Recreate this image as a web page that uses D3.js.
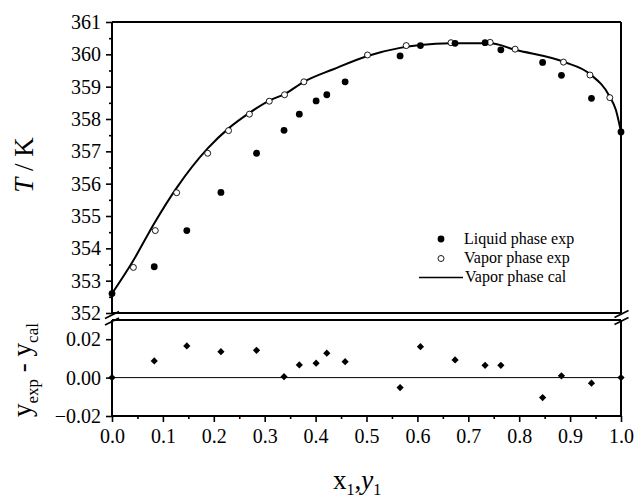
<!DOCTYPE html>
<html>
<head>
<meta charset="utf-8">
<title>T-x-y diagram</title>
<script src="https://d3js.org/d3.v7.min.js"></script>
<style>
  html, body { margin: 0; padding: 0; background: #fff; }
  svg text { font-family: "Liberation Serif", "DejaVu Serif", serif; fill: #000; }
</style>
</head>
<body>
<svg id="chart" width="636" height="500"></svg>
<script>
// liquid phase experimental points (x1, T) and the residuals y_exp - y_cal
const liquidX = [0, 0.083, 0.147, 0.214, 0.284, 0.338, 0.368, 0.401, 0.422, 0.458, 0.566, 0.606, 0.674, 0.733, 0.764, 0.846, 0.883, 0.942, 1.0];
const liquidT = [352.6, 353.43, 354.55, 355.73, 356.94, 357.65, 358.15, 358.56, 358.75, 359.15, 359.95, 360.27, 360.34, 360.36, 360.14, 359.75, 359.35, 358.64, 357.6];
const residual = [0, 0.0087, 0.0165, 0.0135, 0.0142, 0.0005, 0.0066, 0.0075, 0.0127, 0.0083, -0.0052, 0.0161, 0.0092, 0.0064, 0.0064, -0.0104, 0.0009, -0.0029, 0];

// vapor phase experimental points (y1, T)
const vaporY = [0.042, 0.085, 0.127, 0.188, 0.229, 0.270, 0.309, 0.339, 0.377, 0.502, 0.578, 0.666, 0.743, 0.792, 0.887, 0.939, 0.978];
const vaporT = [353.41, 354.55, 355.72, 356.94, 357.64, 358.15, 358.55, 358.75, 359.15, 359.98, 360.27, 360.36, 360.37, 360.16, 359.76, 359.36, 358.66];

// vapor phase calculated curve
const calY = [0, 0.041, 0.084, 0.127, 0.188, 0.229, 0.270, 0.309, 0.339, 0.377, 0.435, 0.502, 0.566, 0.606, 0.666, 0.743, 0.792, 0.887, 0.939, 0.978, 0.990, 1.0];
const calT = [352.6, 353.6, 354.8, 355.87, 357.09, 357.71, 358.19, 358.57, 358.77, 359.15, 359.54, 359.95, 360.2, 360.29, 360.34, 360.34, 360.14, 359.77, 359.39, 358.69, 358.28, 357.6];

// ticks
const xTicks = [0, 0.1, 0.2, 0.3, 0.4, 0.5, 0.6, 0.7, 0.8, 0.9, 1.0];
const xMinor = [0.05, 0.15, 0.25, 0.35, 0.45, 0.55, 0.65, 0.75, 0.85, 0.95];
const tTicks = [352, 353, 354, 355, 356, 357, 358, 359, 360, 361];
const tMinor = [352.5, 353.5, 354.5, 355.5, 356.5, 357.5, 358.5, 359.5, 360.5];
const dTicks = [-0.02, 0.00, 0.02];

const legendLabels = ["Liquid phase exp", "Vapor phase exp", "Vapor phase cal"];

const serif = "'Liberation Serif', 'DejaVu Serif', serif";
const left = 112, right = 621;
const topY0 = 22, topY1 = 313;     // upper panel
const botY0 = 320, botY1 = 416;    // lower panel

const svg = d3.select("#chart");

const x = d3.scaleLinear().domain([0, 1]).range([left, right]);
const yT = d3.scaleLinear().domain([352, 361]).range([topY1, topY0]);
const yD = d3.scaleLinear().domain([-0.02, 0.03]).range([botY1, botY0]);

// axes
svg.append("g")
    .attr("transform", `translate(${left},0)`)
    .call(d3.axisLeft(yT).tickValues(tTicks).tickFormat(d3.format("d")).tickSize(6).tickPadding(5))
    .call(g => g.select(".domain").remove());
svg.append("g")
    .attr("transform", `translate(${left},0)`)
    .call(d3.axisLeft(yT).tickValues(tMinor).tickFormat("").tickSize(3))
    .call(g => g.select(".domain").remove());

svg.append("g")
    .attr("transform", `translate(${left},0)`)
    .call(d3.axisLeft(yD).tickValues(dTicks).tickFormat(d3.format(".2f")).tickSize(6).tickPadding(5))
    .call(g => g.select(".domain").remove());

svg.append("g")
    .attr("transform", `translate(0,${botY1})`)
    .call(d3.axisBottom(x).tickValues(xTicks).tickFormat(d3.format(".1f")).tickSize(6).tickPadding(7))
    .call(g => g.select(".domain").remove());
svg.append("g")
    .attr("transform", `translate(0,${botY1})`)
    .call(d3.axisBottom(x).tickValues(xMinor).tickFormat("").tickSize(3))
    .call(g => g.select(".domain").remove());

svg.selectAll(".tick line").attr("stroke", "#000").attr("stroke-width", 1.6);
svg.selectAll(".tick text")
    .attr("font-family", serif)
    .attr("font-size", 20)
    .attr("fill", "#000");

// frame
const frame = [
    [left, topY0, right, topY0],
    [left, topY0, left, topY1],
    [right, topY0, right, topY1],
    [left, topY1, right, topY1],
    [left, botY0, right, botY0],
    [left, botY0, left, botY1],
    [right, botY0, right, botY1],
    [left, botY1, right, botY1]
];
svg.append("g").selectAll("line")
    .data(frame)
    .join("line")
    .attr("x1", d => d[0]).attr("y1", d => d[1])
    .attr("x2", d => d[2]).attr("y2", d => d[3])
    .attr("stroke", "#000").attr("stroke-width", 2);

// axis break marks
const breaks = [[112, 315], [112, 321.5], [621.5, 314], [621.5, 321]];
svg.append("g").selectAll("line")
    .data(breaks)
    .join("line")
    .attr("x1", d => d[0] - 7).attr("y1", d => d[1] + 3.5)
    .attr("x2", d => d[0] + 7).attr("y2", d => d[1] - 3.5)
    .attr("stroke", "#000").attr("stroke-width", 1.8);

// zero line in the residual panel
svg.append("line")
    .attr("x1", left).attr("x2", right)
    .attr("y1", yD(0)).attr("y2", yD(0))
    .attr("stroke", "#000").attr("stroke-width", 1);

// calculated curve
const line = d3.line()
    .x((d, i) => x(calY[i]))
    .y(d => yT(d))
    .curve(d3.curveMonotoneX);
svg.append("path")
    .attr("d", line(calT))
    .attr("fill", "none")
    .attr("stroke", "#000")
    .attr("stroke-width", 2);

// vapor exp
svg.append("g").selectAll("circle")
    .data(vaporT)
    .join("circle")
    .attr("cx", (d, i) => x(vaporY[i]))
    .attr("cy", d => yT(d))
    .attr("r", 3)
    .attr("fill", "#fff")
    .attr("stroke", "#000")
    .attr("stroke-width", 0.9);

// liquid exp
svg.append("g").selectAll("circle")
    .data(liquidT)
    .join("circle")
    .attr("cx", (d, i) => x(liquidX[i]))
    .attr("cy", d => yT(d))
    .attr("r", 3.4)
    .attr("fill", "#000");

// residual diamonds
const diamond = d3.symbol().type(d3.symbolSquare).size(26);
svg.append("g").selectAll("path")
    .data(residual)
    .join("path")
    .attr("d", diamond)
    .attr("transform", (d, i) => `translate(${x(liquidX[i])},${yD(d)}) rotate(45)`)
    .attr("fill", "#000");

// legend
const lg = svg.append("g").attr("font-size", 16);
lg.append("circle").attr("cx", 441).attr("cy", 239).attr("r", 3.4).attr("fill", "#000");
lg.append("circle").attr("cx", 441).attr("cy", 258.5).attr("r", 3)
    .attr("fill", "#fff").attr("stroke", "#000").attr("stroke-width", 0.9);
lg.append("line").attr("x1", 419).attr("x2", 463).attr("y1", 277.5).attr("y2", 277.5)
    .attr("stroke", "#000").attr("stroke-width", 1.6);
lg.selectAll("text")
    .data(legendLabels)
    .join("text")
    .attr("x", (d, i) => i === 2 ? 465 : 464)
    .attr("y", (d, i) => 244 + i * 19)
    .text(d => d);

// axis titles
const tl = svg.append("text")
    .attr("transform", "translate(33,165) rotate(-90)")
    .attr("text-anchor", "middle")
    .attr("font-size", 27);
tl.append("tspan").attr("font-style", "italic").text("T");
tl.append("tspan").text(" / K");

const dl = svg.append("text")
    .attr("transform", "translate(31,370) rotate(-90)")
    .attr("text-anchor", "middle")
    .attr("font-size", 27);
dl.append("tspan").text("y");
dl.append("tspan").attr("font-size", 17).attr("dy", 7).text("exp");
dl.append("tspan").attr("dy", -7).text(" - y");
dl.append("tspan").attr("font-size", 17).attr("dy", 7).text("cal");

const xl = svg.append("text")
    .attr("x", 333).attr("y", 489)
    .attr("font-size", 27);
xl.append("tspan").text("x");
xl.append("tspan").attr("font-size", 16).attr("dy", 6).text("1");
xl.append("tspan").attr("dy", -6).text(",");
xl.append("tspan").attr("font-style", "italic").text("y");
xl.append("tspan").attr("font-size", 16).attr("dy", 6).text("1");
</script>
</body>
</html>
